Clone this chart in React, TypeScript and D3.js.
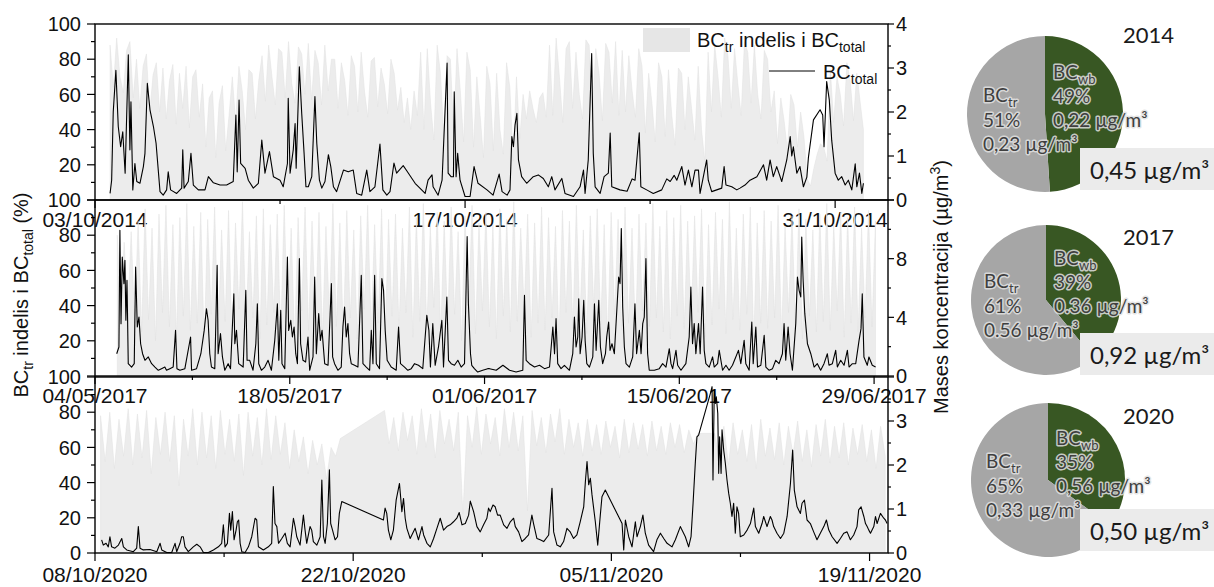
import React from 'react';
import * as d3 from 'd3';

// BC_total (µg/m3) as [days since panel start, value]
const bcTotal2014: [number, number][] = [
  [0.57,0.15],[0.63,0.45],[0.69,2.0],[0.79,2.95],[0.88,1.67],[0.97,1.21],[1.05,1.55],[1.14,0.61],[1.26,3.30],[1.32,1.14],
  [1.36,2.23],[1.43,0.23],[1.51,0.83],[1.58,0.42],[1.70,0.38],[1.83,0.76],[1.89,1.06],[1.98,2.65],[2.08,2.05],[2.21,1.67],
  [2.31,1.29],[2.46,0.19],[2.58,0.11],[2.71,0.23],[2.77,0.64],[2.86,0.23],[3.09,0.15],[3.28,0.27],[3.32,1.14],[3.37,0.27],
  [3.53,0.42],[3.63,1.06],[3.72,0.34],[3.91,0.23],[4.16,0.23],[4.29,0.53],[4.48,0.39],[4.73,0.34],[4.98,0.34],[5.23,0.42],
  [5.33,1.93],[5.38,0.64],[5.45,2.27],[5.51,0.83],[5.68,0.72],[5.80,0.45],[5.99,0.27],[6.18,0.38],[6.31,1.36],[6.43,0.61],
  [6.60,1.10],[6.75,0.53],[7.00,0.45],[7.12,0.30],[7.28,0.83],[7.31,2.31],[7.38,0.61],[7.50,1.14],[7.57,1.74],[7.61,0.72],
  [7.73,3.03],[7.82,1.97],[7.91,1.06],[7.98,0.30],[8.07,0.30],[8.20,0.53],[8.32,2.35],[8.39,1.29],[8.49,0.45],[8.58,0.27],
  [8.70,0.42],[8.83,1.03],[8.92,0.76],[9.02,0.30],[9.14,0.19],[9.40,0.68],[9.58,0.64],[9.77,0.68],[9.90,0.15],[10.09,0.11],
  [10.28,0.68],[10.40,0.19],[10.59,0.30],[10.78,1.27],[10.89,0.23],[11.04,0.11],[11.16,0.19],[11.31,0.84],[11.41,0.61],[11.66,0.78],
  [11.80,0.66],[12.11,0.38],[12.49,0.15],[12.60,0.45],[12.75,0.57],[12.79,0.30],[12.98,0.11],[13.13,0.45],[13.32,3.11],[13.36,0.61],
  [13.47,0.53],[13.56,0.53],[13.59,2.46],[13.66,0.53],[13.72,1.06],[13.81,0.45],[14.00,0.08],[14.19,0.08],[14.34,0.76],[14.49,0.38],
  [14.83,0.23],[15.06,0.11],[15.29,0.59],[15.40,0.19],[15.59,0.11],[15.70,0.23],[15.77,1.44],[15.83,1.21],[15.89,1.70],[15.96,1.97],
  [16.02,0.91],[16.14,0.53],[16.33,0.38],[16.58,0.53],[16.77,0.57],[16.96,0.49],[17.15,0.30],[17.28,0.53],[17.40,0.23],[17.66,0.49],
  [17.78,0.15],[18.10,0.08],[18.35,0.30],[18.48,0.68],[18.54,0.15],[18.66,0.91],[18.79,3.33],[18.85,1.06],[18.92,0.30],[19.11,0.15],
  [19.26,0.53],[19.42,0.61],[19.49,1.52],[19.55,0.30],[19.86,0.23],[20.13,0.20],[20.32,0.48],[20.43,0.45],[20.59,1.53],[20.65,0.30],
  [20.87,0.23],[21.12,0.15],[21.44,0.23],[21.63,0.48],[21.76,0.42],[21.91,0.56],[22.01,0.45],[22.20,0.76],[22.32,0.34],[22.45,0.68],
  [22.58,0.30],[22.70,0.68],[22.83,0.68],[22.89,0.15],[23.14,0.91],[23.20,0.45],[23.33,0.19],[23.52,0.23],[23.71,0.27],[23.80,0.76],
  [23.87,0.34],[24.09,0.30],[24.28,0.23],[24.40,0.27],[24.59,0.34],[24.78,0.45],[25.04,0.53],[25.29,0.80],[25.41,0.45],[25.54,0.91],
  [25.66,0.53],[25.79,0.76],[25.98,0.42],[26.17,0.91],[26.30,1.44],[26.36,1.00],[26.42,1.21],[26.55,0.61],[26.67,0.76],[26.80,0.30],
  [26.93,0.52],[26.99,0.97],[27.18,1.82],[27.43,2.05],[27.53,1.93],[27.58,1.21],[27.68,2.69],[27.78,2.27],[27.87,1.36],[28.00,0.61],
  [28.12,0.45],[28.25,0.53],[28.38,0.34],[28.50,0.45],[28.63,0.23],[28.76,0.82],[28.82,0.30],[28.92,0.61],[29.01,0.15],[29.07,0.38],
];

const bcTotal2017: [number, number][] = [
  [1.56,1.52],[1.72,1.98],[1.79,9.93],[1.87,3.57],[1.96,8.11],[2.08,6.30],[2.15,7.89],[2.22,3.80],[2.30,6.52],[2.39,0.84],
  [2.63,0.61],[2.82,0.84],[2.92,7.43],[3.04,3.34],[3.16,4.02],[3.28,2.20],[3.42,1.52],[3.59,1.07],[3.83,1.30],[4.07,0.84],
  [4.31,0.61],[4.55,0.39],[4.78,0.50],[5.02,0.61],[5.14,0.39],[5.38,0.50],[5.62,0.61],[5.79,3.11],[5.89,0.50],[6.10,0.39],
  [6.46,0.50],[6.87,2.66],[6.94,0.39],[7.30,0.50],[7.61,1.52],[7.85,3.11],[8.01,4.59],[8.13,3.80],[8.25,1.52],[8.37,0.61],
  [8.61,0.50],[8.78,7.55],[8.85,1.52],[9.02,2.89],[9.16,1.30],[9.33,0.39],[9.57,0.84],[9.74,0.50],[9.98,5.61],[10.05,2.20],
  [10.17,3.11],[10.33,0.84],[10.65,0.61],[10.84,5.84],[10.93,1.07],[11.12,1.07],[11.36,0.39],[11.56,2.20],[11.67,4.93],[11.77,0.84],
  [11.96,0.39],[12.20,0.61],[12.44,1.07],[12.68,0.39],[12.92,2.43],[13.11,4.93],[13.21,1.07],[13.35,4.48],[13.44,0.84],[13.64,0.50],
  [13.83,8.11],[13.92,3.11],[14.07,3.80],[14.19,2.66],[14.31,3.34],[14.43,1.52],[14.55,0.84],[14.69,8.00],[14.78,2.20],[14.95,1.07],
  [15.14,0.95],[15.31,2.66],[15.43,0.39],[15.67,1.30],[15.79,6.75],[15.91,1.52],[16.08,4.25],[16.20,2.43],[16.32,3.11],[16.51,0.84],
  [16.75,0.73],[16.99,6.30],[17.08,1.30],[17.22,0.84],[17.46,0.39],[17.70,0.61],[17.82,3.34],[17.94,4.70],[18.06,2.66],[18.18,3.57],
  [18.30,1.52],[18.42,0.84],[18.66,0.73],[18.90,0.61],[19.14,6.86],[19.26,0.84],[19.50,0.61],[19.74,0.39],[19.86,3.11],[19.98,0.84],
  [20.10,6.86],[20.22,0.84],[20.45,0.50],[20.62,6.64],[20.74,5.84],[20.86,3.11],[21.00,1.07],[21.29,0.61],[21.65,0.39],[21.82,3.34],
  [21.96,0.84],[22.25,0.61],[22.49,0.39],[22.73,0.50],[22.97,0.84],[23.25,0.73],[23.56,0.50],[23.85,4.14],[24.00,3.11],[24.11,0.61],
  [24.28,3.57],[24.45,0.73],[24.69,1.98],[24.93,3.80],[25.05,0.61],[25.29,5.39],[25.41,1.07],[25.60,0.84],[25.84,0.73],[26.08,1.07],
  [26.32,0.61],[26.56,0.84],[26.75,9.50],[26.84,4.93],[26.99,1.52],[27.08,0.73],[27.27,0.50],[27.51,0.27],[27.87,0.39],[28.23,0.50],
  [28.36,0.50],[28.84,0.39],[29.32,0.73],[29.80,0.39],[30.27,0.27],[30.75,0.39],[30.87,5.50],[30.99,1.07],[31.23,0.84],[31.59,0.61],
  [31.95,0.73],[32.31,0.50],[32.67,0.61],[32.91,3.34],[33.03,1.52],[33.14,3.91],[33.26,0.84],[33.50,0.50],[33.74,0.73],[34.10,0.39],
  [34.34,1.52],[34.46,4.02],[34.58,1.98],[34.70,2.66],[34.77,5.27],[34.87,1.52],[35.01,2.66],[35.13,5.16],[35.23,2.43],[35.35,0.84],
  [35.54,0.61],[35.78,1.30],[35.90,4.93],[36.02,1.75],[36.21,5.16],[36.33,1.98],[36.49,0.84],[36.69,1.52],[36.78,2.66],[36.92,3.68],
  [37.02,1.75],[37.16,2.20],[37.33,1.52],[37.52,4.70],[37.64,6.75],[37.74,6.30],[37.83,10.05],[37.93,4.70],[38.05,1.98],[38.17,0.84],
  [38.41,0.61],[38.65,1.30],[38.81,4.93],[38.93,1.52],[39.13,3.11],[39.25,1.52],[39.37,3.57],[39.48,4.02],[39.60,8.00],[39.72,1.52],
  [39.84,0.39],[40.20,0.39],[40.56,0.50],[40.80,0.84],[41.04,0.61],[41.28,1.86],[41.40,0.84],[41.52,0.50],[41.76,1.75],[41.88,0.73],
  [42.12,0.39],[42.47,0.84],[42.71,2.66],[42.83,6.07],[42.95,2.20],[43.07,3.57],[43.19,1.52],[43.38,3.57],[43.50,1.52],[43.67,6.07],
  [43.79,1.75],[43.91,0.84],[44.15,0.61],[44.39,1.30],[44.51,0.61],[44.75,0.84],[44.87,1.75],[45.11,0.39],[45.35,0.73],[45.58,0.39],
  [45.82,0.73],[46.06,1.30],[46.25,1.75],[46.42,0.84],[46.66,2.43],[46.78,0.84],[47.02,0.39],[47.21,3.68],[47.31,0.84],[47.50,3.34],
  [47.62,0.61],[47.86,0.73],[48.10,2.77],[48.22,0.61],[48.46,0.39],[48.70,0.50],[48.93,1.07],[49.17,0.84],[49.41,1.52],[49.53,3.57],
  [49.65,1.07],[49.82,3.34],[49.96,1.52],[50.13,0.39],[50.37,3.57],[50.49,6.75],[50.61,5.84],[50.73,5.39],[50.80,9.48],[50.90,6.52],
  [51.02,4.25],[51.21,2.20],[51.45,1.52],[51.69,0.61],[51.92,0.84],[52.16,0.39],[52.40,0.84],[52.64,1.52],[52.76,0.73],[53.00,0.84],
  [53.24,1.75],[53.36,0.61],[53.60,1.07],[53.84,0.73],[54.08,1.75],[54.20,0.61],[54.44,0.84],[54.68,0.84],[54.92,2.43],[55.06,3.23],
  [55.15,5.61],[55.27,1.30],[55.51,0.73],[55.63,1.30],[55.87,0.73],[56.11,0.61],
];

const bcTotal2020: [number, number][] = [
  [0.36,0.30],[0.45,0.18],[0.60,0.22],[0.72,0.14],[0.81,0.37],[0.90,0.14],[1.08,0.11],[1.27,0.18],[1.45,0.33],[1.54,0.14],
  [1.72,0.07],[2.08,0.03],[2.26,0.11],[2.35,0.60],[2.44,0.11],[2.62,0.07],[2.98,0.08],[3.35,0.03],[3.53,0.22],[3.62,0.07],
  [3.89,0.01],[4.16,0.01],[4.34,0.22],[4.43,0.03],[4.61,0.22],[4.70,0.37],[4.79,0.37],[4.88,0.14],[5.06,0.03],[5.33,0.14],
  [5.52,0.20],[5.70,0.14],[5.88,0.01],[6.15,0.01],[6.42,0.07],[6.69,0.14],[6.87,0.22],[6.96,0.64],[7.05,0.14],[7.18,0.22],
  [7.29,0.90],[7.36,0.52],[7.45,0.94],[7.54,0.30],[7.65,0.52],[7.72,0.71],[7.79,0.75],[7.87,0.22],[7.96,0.03],[8.14,0.01],
  [8.32,0.14],[8.50,0.37],[8.68,0.79],[8.77,0.75],[8.86,0.14],[9.13,0.07],[9.40,0.14],[9.58,0.22],[9.67,1.51],[9.76,0.67],
  [9.86,0.60],[9.95,0.22],[10.13,0.33],[10.31,0.45],[10.43,0.22],[10.58,0.14],[10.76,0.79],[10.85,0.60],[10.94,0.37],[11.12,0.18],
  [11.30,0.86],[11.39,0.52],[11.48,0.22],[11.66,0.60],[11.75,0.52],[11.84,0.26],[12.03,0.18],[12.21,0.37],[12.30,1.66],[12.39,0.37],
  [12.48,0.22],[12.60,0.67],[12.71,1.89],[12.78,0.67],[12.88,0.52],[13.02,0.30],[13.15,0.37],[13.25,0.90],[13.38,1.17],[15.64,0.75],
  [15.73,1.02],[15.82,0.90],[15.91,0.52],[16.04,0.30],[16.18,0.52],[16.33,1.20],[16.51,1.58],[16.64,0.94],[16.73,1.24],[16.82,0.79],
  [16.91,0.56],[17.09,0.33],[17.36,0.56],[17.54,0.30],[17.73,0.60],[17.82,0.41],[18.00,0.22],[18.18,0.14],[18.36,0.33],[18.54,0.56],
  [18.72,0.79],[18.90,0.52],[19.08,0.60],[19.26,0.64],[19.44,0.71],[19.62,0.79],[19.75,0.92],[19.90,0.64],[20.08,0.67],[20.26,0.86],
  [20.35,1.18],[20.53,0.94],[20.71,0.60],[20.89,0.48],[21.07,0.64],[21.25,0.79],[21.34,1.02],[21.43,0.94],[21.58,1.09],[21.70,1.05],
  [21.83,0.86],[21.97,0.86],[22.16,0.64],[22.34,0.56],[22.52,0.71],[22.70,0.79],[22.79,0.60],[22.97,0.48],[23.15,0.26],[23.33,0.33],
  [23.51,0.41],[23.69,0.86],[23.78,0.67],[23.96,0.33],[24.14,0.30],[24.33,0.26],[24.60,0.41],[24.78,1.47],[24.87,0.48],[25.05,0.18],
  [25.23,0.14],[25.41,0.26],[25.59,0.56],[25.77,0.48],[25.95,0.33],[26.13,0.41],[26.31,0.71],[26.50,1.05],[26.59,1.62],[26.68,2.08],
  [26.77,1.55],[26.86,1.70],[26.95,1.32],[27.13,0.71],[27.26,0.18],[27.40,0.86],[27.49,1.28],[27.67,1.43],[28.58,0.67],[28.67,0.07],
  [28.76,0.75],[28.94,0.37],[29.12,0.14],[29.30,0.71],[29.39,0.37],[29.57,0.60],[29.71,0.86],[29.84,0.45],[30.02,0.18],[30.29,0.03],
  [30.47,0.30],[30.66,0.45],[30.84,0.33],[31.02,0.22],[31.29,0.14],[31.47,0.30],[31.74,0.60],[31.83,0.52],[32.01,0.37],[32.19,0.14],
  [32.32,0.37],[32.43,1.13],[32.55,2.04],[32.64,2.64],[32.73,2.68],[33.37,3.63],[33.46,3.78],[33.51,1.66],[33.58,3.70],[33.64,3.40],
  [33.69,3.55],[33.77,3.17],[33.82,1.81],[33.87,2.64],[33.95,1.81],[34.00,2.80],[34.09,2.34],[34.18,2.04],[34.27,1.66],[34.36,1.36],
  [34.45,1.13],[34.54,0.83],[34.63,1.13],[34.72,0.45],[34.81,1.05],[34.90,0.90],[34.99,0.37],[35.18,0.41],[35.36,0.52],[35.54,0.67],
  [35.72,1.02],[35.81,0.60],[35.99,0.45],[36.17,0.67],[36.26,0.83],[36.44,0.60],[36.62,0.83],[36.71,0.75],[36.80,0.60],[36.98,0.45],
  [37.17,0.33],[37.35,0.45],[37.53,0.83],[37.71,1.58],[37.83,2.34],[37.92,1.43],[38.07,1.05],[38.25,0.90],[38.34,1.13],[38.47,1.20],
  [38.61,0.75],[38.79,0.67],[38.97,0.48],[39.15,0.30],[39.33,0.45],[39.52,0.60],[39.66,0.75],[39.79,0.52],[39.97,0.37],[40.24,0.22],
  [40.42,0.33],[40.60,0.45],[40.78,0.48],[40.96,0.30],[41.14,0.41],[41.32,0.60],[41.41,0.98],[41.54,1.05],[41.69,0.83],[41.78,0.67],
  [41.87,0.60],[41.96,0.52],[42.05,0.45],[42.23,0.60],[42.32,0.83],[42.41,0.67],[42.59,0.90],[42.77,0.79],[42.86,0.75],[42.95,0.67],
];

// BC_tr share of BC_total (%), regular steps from the segment start day
const trShare2014 = [
  88,64,92,70,61,85,90,58, 80,52,76,83,49,71,78,50,
  75,46,68,77,43,72,52,76,41,70,74,47, 66,30,58,62,24,55,65,28,48,
  70,44,76,62,40,74,72,46,68,
  82,56,88,70,54,86,84,58,90,66,55,87,83,60,89,57,85,78,54,88,62,80,
  80,52,78,68,48,82,76,50,84,62,47,79,81,53,75,66,49,80,72,51,
  64,44,58,40,62,48,
  84,40,86,55,34,88,72,36,82,80,38,86,62,33,84,
  74,30,70,48,24,76,66,28,72,40,26,78,64,22,70,35,
  60,46,62,52,44,58,61,47,
  88,48,92,70,44,86,90,52,84,60,46,91,88,50,86,72,45,89,84,55,90,48,
  85,50,82,62,47,86,
  76,38,72,55,33,78,70,36,74,48,31,75,72,40,70,52,34,76,
  40,22,
  84,50,88,70,47,92,82,52,86,66,48,90,84,55,88,60,46,85,80,50,
  62,32,58,45,28,60,54,30,50,36,
  12,8,18,26,32,30,22,
  74,44,70,60,42,78,68,45,72,56,40,
];
const trShare2017 = [
  80,40,76,35,82,30,
  88,25,95,32,84,20,92,36,97,28,86,22,90,34,98,26,85,30,93,18,
  89,35,96,24,83,31,94,20,87,38,99,27,82,33,91,21,95,29,86,36,
  92,23,97,30,84,19,90,37,96,26,88,32,93,22,85,35,98,28,87,24,
  94,33,83,21,91,38,97,25,86,30,95,20,89,34,92,27,84,36,96,22,
  90,31,98,26,85,39,93,23,88,29,96,35,82,20,91,32,97,24,87,37,
  93,28,86,21,95,34,89,25,99,31,84,38,92,22,87,30,96,26,90,33,
  85,20,94,36,88,27,97,32,83,24,91,39,95,29,86,21,93,35,89,26,
  96,30,84,23,92,37,87,28,98,33,85,25,94,21,90,34,97,27,88,31,
  91,36,95,22,86,29,93,38,89,24,99,32,84,26,92,35,96,20,87,30,
  94,27,88,33,97,23,85,36,91,28,95,21,89,34,83,25,92,31,98,26,
  86,37,93,22,90,30,96,25,84,33,94,28,88,
];
const trShare2020a = [
  78,52,80,48,76,55,82,50,79,54,81,45,77,56,80,52,78,38,76,55,82,50,80,54,78,48,81,56,76,52,
  79,44,80,55,77,50,82,53,78,56,74,48,70,52,66,45,64,50,62,42,60,55,65,
];
const trShare2020b = [
  81,62,77,58,80,64,78,56,82,60,79,54,81,62,76,58,80,22,78,60,83,56,79,62,77,55,82,60,80,58,
  78,24,81,61,77,57,79,63,82,56,76,60,74,55,76,58,73,56,75,60,72,54,76,57,74,59,73,55,75,58,
  72,56,74,60,73,57,70,62,68,
];
const trShare2020c = [
  68,54,72,50,74,56,70,52,73,48,76,55,71,53,74,50,72,56,75,52,70,49,73,55,76,51,72,54,74,50,
  71,56,73,52,70,48,72,55,
];

// pie charts
const pieYears = ['2014', '2017', '2020'];
const wbPercent = [49, 39, 35];
const trPercent = [51, 61, 65];
const wbConcLabel = ['0,22', '0.36', '0,56'];
const trConcLabel = ['0,23', '0.56', '0,33'];
const totalLabel = ['0,45', '0,92', '0,50'];

const DAY = 864e5;
const X0 = 95;
const X1 = 888;
const PH = 176;
const FONT = '"Liberation Sans", Arial, sans-serif';
const PIE_FONT = 'Lato, "Noto Sans", sans-serif';

const panels = [
  { start: new Date(2014, 9, 3), days: 30, top: 24, line: bcTotal2014, rightMax: 4, rightMajor: 1, rightMinor: 0.5,
    rightLabels: [0, 1, 2, 3, 4], leftLabels: [20, 40, 60, 80, 100],
    shares: [{ from: 0.57, step: 0.125, values: trShare2014 }] },
  { start: new Date(2017, 4, 4), days: 57, top: 200, line: bcTotal2017, rightMax: 12, rightMajor: 4, rightMinor: 2,
    rightLabels: [0, 4, 8], leftLabels: [20, 40, 60, 80, 100],
    shares: [{ from: 1.6, step: 0.25, values: trShare2017 }] },
  { start: new Date(2020, 9, 8), days: 43, top: 377, line: bcTotal2020, rightMax: 4, rightMajor: 1, rightMinor: 0.5,
    rightLabels: [0, 1, 2, 3], leftLabels: [0, 20, 40, 60, 80, 100],
    shares: [{ from: 0.3, step: 0.25, values: trShare2020a }, { from: 15.7, step: 0.25, values: trShare2020b },
      { from: 33.6, step: 0.25, values: trShare2020c }] },
];

const pieLayout = [
  { cx: 1045, cy: 114, r: 78, yearY: 43, boxY: 148 },
  { cx: 1046, cy: 300, r: 75, yearY: 245, boxY: 333 },
  { cx: 1048, cy: 480, r: 77, yearY: 424, boxY: 509 },
];

const fmt = d3.timeFormat('%d/%m/%Y');

function Panel({ p, idx }: { p: typeof panels[number]; idx: number }) {
  const top = p.top;
  const bottom = top + PH;
  const end = d3.timeDay.offset(p.start, p.days);
  const x = d3.scaleTime().domain([p.start, end]).range([X0, X1]);
  const yL = d3.scaleLinear().domain([0, 100]).range([bottom, top]);
  const yR = d3.scaleLinear().domain([0, p.rightMax]).range([bottom, top]);
  const at = (d: number) => x(new Date(p.start.getTime() + d * DAY));

  const shareData: [number, number][] = p.shares.flatMap(s =>
    s.values.map((v, i) => [s.from + i * s.step, v] as [number, number]));
  const area = d3.area<[number, number]>().x(d => at(d[0])).y0(bottom).y1(d => yL(d[1]));
  const line = d3.line<[number, number]>().x(d => at(d[0])).y(d => yR(d[1]));

  const xTicks = d3.range(0, p.days + 1, 7).map(k => d3.timeDay.offset(p.start, k));
  const leftTicks = d3.range(0, 101, 10);
  const rightTicks = d3.range(0, p.rightMax + 1e-9, p.rightMinor);
  const clipId = `clip${idx}`;

  return (
    <g>
      <clipPath id={clipId}><rect x={X0} y={top} width={X1 - X0} height={PH} /></clipPath>
      <g clipPath={`url(#${clipId})`}>
        <path d={area(shareData) || ''} fill="#ececec" stroke="#e0e0e0" strokeWidth={0.5} />
        <path d={line(p.line) || ''} fill="none" stroke="#000" strokeWidth={1.1} strokeLinejoin="round" />
      </g>
      <rect x={X0} y={top} width={X1 - X0} height={PH} fill="none" stroke="#000" strokeWidth={1.4} />
      {leftTicks.map(v => (
        <line key={'l' + v} x1={X0} x2={X0 - (v % 20 === 0 ? 8 : 4)} y1={yL(v)} y2={yL(v)} stroke="#000" strokeWidth={1.2} />
      ))}
      {p.leftLabels.map(v => (
        <text key={'lt' + v} x={81} y={yL(v)} dy="0.36em" textAnchor="end" fontSize={20} fontFamily={FONT} fill="#111">{v}</text>
      ))}
      {rightTicks.map(v => (
        <line key={'r' + v} x1={X1} x2={X1 + (Math.abs(v % p.rightMajor) < 1e-9 ? 6 : 3)} y1={yR(v)} y2={yR(v)} stroke="#000" strokeWidth={1.2} />
      ))}
      {p.rightLabels.map(v => (
        <text key={'rt' + v} x={896} y={yR(v)} dy="0.36em" fontSize={20} fontFamily={FONT} fill="#111">{v}</text>
      ))}
      {xTicks.map((t, k) => (
        <line key={'x' + k} x1={x(t)} x2={x(t)} y1={bottom} y2={bottom + (k % 2 === 0 ? 8 : 4)} stroke="#000" strokeWidth={1.2} />
      ))}
      {xTicks.filter((_, k) => k % 2 === 0).map((t, k) => (
        <text key={'xt' + k} x={x(t)} y={bottom + (idx === 2 ? 29 : 27)} textAnchor="middle" fontSize={21} fontFamily={FONT} fill="#111">{fmt(t)}</text>
      ))}
    </g>
  );
}

function Pie({ i }: { i: number }) {
  const L = pieLayout[i];
  const slices = d3.pie<number>().sort(null)([wbPercent[i], trPercent[i]]);
  const arc = d3.arc<d3.PieArcDatum<number>>().innerRadius(0).outerRadius(L.r);
  const colors = ['#385723', '#a6a6a6'];
  const txt = { fontFamily: PIE_FONT, fontSize: 19, fill: '#3f3f3f', stroke: 'rgba(225,225,225,0.85)', strokeWidth: 3, paintOrder: 'stroke', strokeLinejoin: 'round' } as any;
  const trX = L.cx - 62, trY = L.cy - 12;
  const wbX = L.cx + 8, wbY = L.cy - 35;
  return (
    <g>
      <g transform={`translate(${L.cx},${L.cy})`}>
        {slices.map((s, k) => <path key={k} d={arc(s) || ''} fill={colors[k]} />)}
      </g>
      <text x={1123} y={L.yearY} fontFamily={PIE_FONT} fontSize={22} fill="#1a1a1a">{pieYears[i]}</text>
      <text x={trX} y={trY} {...txt}>BC<tspan fontSize={13} dy={5}>tr</tspan></text>
      <text x={trX} y={trY + 25} {...txt}>{trPercent[i]}%</text>
      <text x={trX} y={trY + 49} {...txt}>{trConcLabel[i]} µg/m³</text>
      <text x={wbX} y={wbY} {...txt}>BC<tspan fontSize={13} dy={5}>wb</tspan></text>
      <text x={wbX} y={wbY + 24} {...txt}>{wbPercent[i]}%</text>
      <text x={wbX} y={wbY + 48} {...txt}>{wbConcLabel[i]} µg/m³</text>
      <rect x={1080} y={L.boxY} width={134} height={42} fill="#ebebeb" />
      <text x={1090} y={L.boxY + 31} fontFamily={PIE_FONT} fontSize={24} fill="#1a1a1a">{totalLabel[i]} µg/m³</text>
    </g>
  );
}

export default function App() {
  return (
    <svg width={1214} height={587} style={{ position: 'absolute', left: 0, top: 0, background: '#fff' }}>
      {panels.map((p, i) => <Panel key={i} p={p} idx={i} />)}

      {/* legend */}
      <rect x={643} y={28} width={47} height={24} fill="#e6e6e6" />
      <text x={697} y={47} fontFamily={FONT} fontSize={20} fill="#111">
        BC<tspan fontSize={14} dy={5}>tr</tspan><tspan dy={-5}> indelis i BC</tspan><tspan fontSize={14} dy={5}>total</tspan>
      </text>
      <line x1={769} x2={815} y1={71} y2={71} stroke="#000" strokeWidth={1} />
      <text x={823} y={79} fontFamily={FONT} fontSize={20} fill="#111">
        BC<tspan fontSize={14} dy={5}>total</tspan>
      </text>

      {/* axis titles */}
      <text transform="translate(28,295) rotate(-90)" textAnchor="middle" fontFamily={FONT} fontSize={20} fill="#111">
        BC<tspan fontSize={14} dy={5}>tr</tspan><tspan dy={-5}> indelis i BC</tspan><tspan fontSize={14} dy={5}>total</tspan><tspan dy={-5}> (%)</tspan>
      </text>
      <text transform="translate(948,287) rotate(-90)" textAnchor="middle" fontFamily={FONT} fontSize={20} fill="#111">
        Mases koncentracija (µg/m<tspan fontSize={14} dy={-8}>3</tspan><tspan dy={8}>)</tspan>
      </text>

      {pieYears.map((_, i) => <Pie key={i} i={i} />)}
    </svg>
  );
}
